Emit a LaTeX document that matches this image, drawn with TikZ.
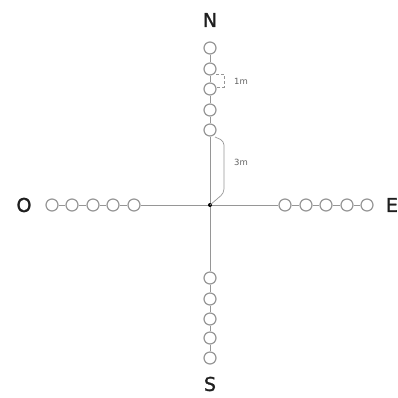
\documentclass[tikz,border=0pt]{standalone}
\usepackage{fontspec}
\setmainfont{DejaVu Sans}
\newfontfamily\cardfont[FakeBold=1.3]{DejaVu Sans}
\usetikzlibrary{calc}
\definecolor{lg}{RGB}{150,150,150}
\definecolor{tx}{RGB}{30,30,30}
\begin{document}
\begin{tikzpicture}[x=1pt,y=-1pt,
  ring/.style={circle,draw=lg,fill=white,line width=1.2pt,minimum size=12pt,inner sep=0pt},
  wire/.style={draw=lg,line width=0.9pt},
  card/.style={text=tx,font=\cardfont\fontsize{19}{20}\selectfont,inner sep=0pt},
  dim/.style={text=tx!70,font=\fontsize{8.5}{9}\selectfont,inner sep=0pt}]
\useasboundingbox (0,0) rectangle (398,397);
% centre
\coordinate (c) at (210,205);
% north
\foreach \i/\y in {1/48,2/69,3/89,4/110,5/130}{\node[ring] (n\i) at (210,\y) {};}
% south
\foreach \i/\y in {1/278,2/299,3/319,4/338,5/358}{\node[ring] (s\i) at (210,\y) {};}
% west
\foreach \i/\x in {1/52,2/72,3/93,4/113,5/134}{\node[ring] (w\i) at (\x,205) {};}
% east
\foreach \i/\x in {1/285,2/306,3/326,4/347,5/367}{\node[ring] (e\i) at (\x,205) {};}
% connectors
\foreach \a/\b in {n1/n2,n2/n3,n3/n4,n4/n5,n5/c,c/s1,s1/s2,s2/s3,s3/s4,s4/s5,
                   w1/w2,w2/w3,w3/w4,w4/w5,w5/c,c/e1,e1/e2,e2/e3,e3/e4,e4/e5}
  {\path[wire] (\a) -- (\b);}
\fill[black] (c) circle (2pt);
% labels
\node[card] (N) at (210,20) {N};
\node[card] (S) at (210,384) {S};
\node[card] (O) at (24,205) {O};
\node[card] (E) at (392,205) {E};
% 1m bracket
\coordinate (b1a) at (216,74);
\coordinate (b1b) at (216,87);
\draw[lg,line width=0.6pt,densely dashed] (b1a) -- ++(8,0) -- ++(0,13) -- (b1b);
\node[dim] (l1) at (241,81) {1m};
% 3m bracket
\coordinate (b3a) at (215,137);
\draw[lg,line width=0.7pt,rounded corners=4pt] (b3a) -- (224,141) -- (224,193) -- (c);
\node[dim] (l3) at (241,162) {3m};
\end{tikzpicture}
\end{document}
